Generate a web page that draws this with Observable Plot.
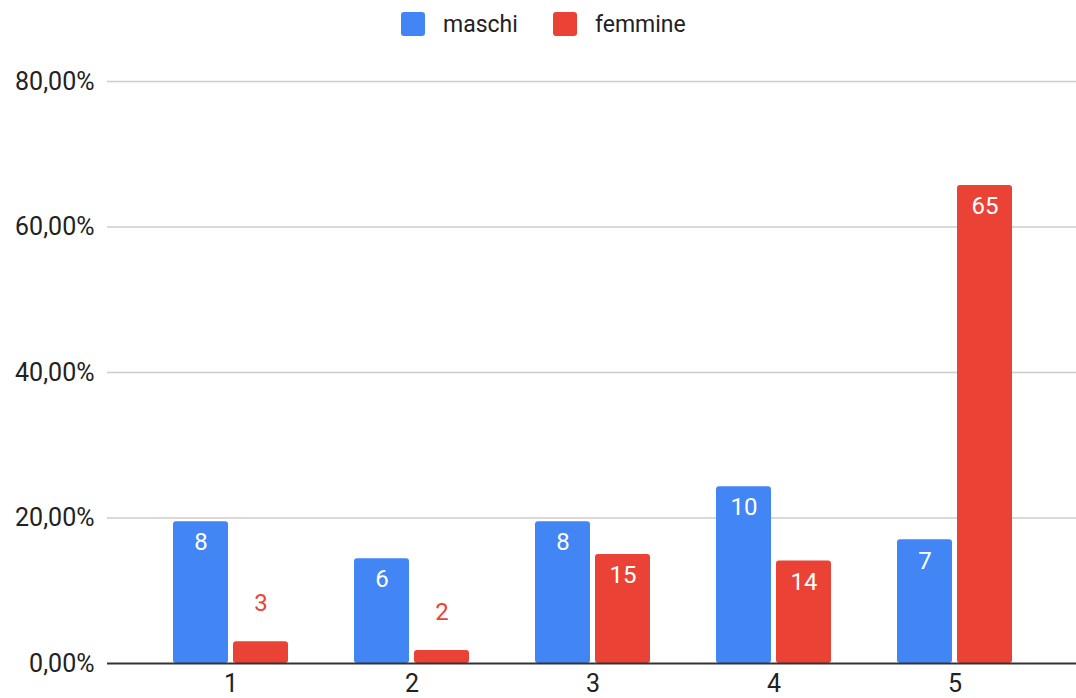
<!DOCTYPE html>
<html>
<head>
<meta charset="utf-8">
<script src="https://cdn.jsdelivr.net/npm/d3@7"></script>
<script src="https://cdn.jsdelivr.net/npm/@observablehq/plot@0.6"></script>
<style>
  html, body { margin: 0; padding: 0; background: #fff; }
  #legend { position: relative; height: 48px; font-family: Roboto, sans-serif; font-size: 23px; color: #222; }
  .item { position: absolute; top: 0; height: 48px; display: flex; align-items: center; }
  .sw { width: 24px; height: 24px; border-radius: 3px; margin-right: 18px; margin-top: -1px; }
</style>
</head>
<body>
<div id="legend"></div>
<div id="chart"></div>
<script>
const categories = ["1", "2", "3", "4", "5"];
const series = ["maschi", "femmine"];
const maschiPct = [19.5, 14.4, 19.5, 24.3, 17.0];
const femminePct = [3.0, 1.8, 15.0, 14.1, 65.7];
const maschiCount = [8, 6, 8, 10, 7];
const femmineCount = [3, 2, 15, 14, 65];
const yTicks = [0, 20, 40, 60, 80];
const colors = ["#4285F4", "#EA4335"];

// legend
const legend = document.getElementById("legend");
const legendLeft = [401, 553];
series.forEach((s, i) => {
  const it = document.createElement("div");
  it.className = "item";
  it.style.left = legendLeft[i] + "px";
  const sw = document.createElement("div");
  sw.className = "sw";
  sw.style.background = colors[i];
  const t = document.createElement("span");
  t.textContent = s;
  it.appendChild(sw); it.appendChild(t);
  legend.appendChild(it);
});

const rowsM = categories.map((c, i) => ({cat: c, pct: maschiPct[i], count: maschiCount[i]}));
const rowsF = categories.map((c, i) => ({cat: c, pct: femminePct[i], count: femmineCount[i]}));
const fmt = v => v.toFixed(2).replace(".", ",") + "%";
const inside = d => d.pct >= 5;

const chart = Plot.plot({
  width: 1076,
  height: 650,
  marginLeft: 107,
  marginRight: 0,
  marginTop: 33,
  marginBottom: 35,
  x: {domain: categories, range: [140, 1045], padding: 0, label: null},
  y: {domain: [0, 80], label: null},
  style: {fontFamily: "Roboto, sans-serif", fontSize: "25px", color: "#222", background: "white"},
  marks: [
    Plot.ruleY(yTicks.filter(d => d > 0), {stroke: "#cccccc", strokeWidth: 1.5}),
    Plot.barY(rowsM, {x: "cat", y: "pct", fill: colors[0], insetLeft: 33, insetRight: 93, rx: 3}),
    Plot.barY(rowsF, {x: "cat", y: "pct", fill: colors[1], insetLeft: 93, insetRight: 33, rx: 3}),
    Plot.ruleY([0], {stroke: "#333", strokeWidth: 2}),
    Plot.axisY({ticks: yTicks, tickFormat: fmt, tickSize: 0, tickPadding: 13, fontSize: 25}),
    Plot.axisX({tickSize: 0, tickPadding: 11, fontSize: 25}),
    Plot.text(rowsM.filter(inside), {x: "cat", y: "pct", text: d => String(d.count), dx: -30, dy: 21, fill: "white", fontSize: 24, lineAnchor: "middle"}),
    Plot.text(rowsM.filter(d => !inside(d)), {x: "cat", y: "pct", text: d => String(d.count), dx: -30, dy: -38, fill: colors[0], fontSize: 24, lineAnchor: "middle"}),
    Plot.text(rowsF.filter(inside), {x: "cat", y: "pct", text: d => String(d.count), dx: 30, dy: 21, fill: "white", fontSize: 24, lineAnchor: "middle"}),
    Plot.text(rowsF.filter(d => !inside(d)), {x: "cat", y: "pct", text: d => String(d.count), dx: 30, dy: -38, fill: colors[1], fontSize: 24, lineAnchor: "middle"})
  ]
});
document.getElementById("chart").appendChild(chart);
</script>
</body>
</html>
